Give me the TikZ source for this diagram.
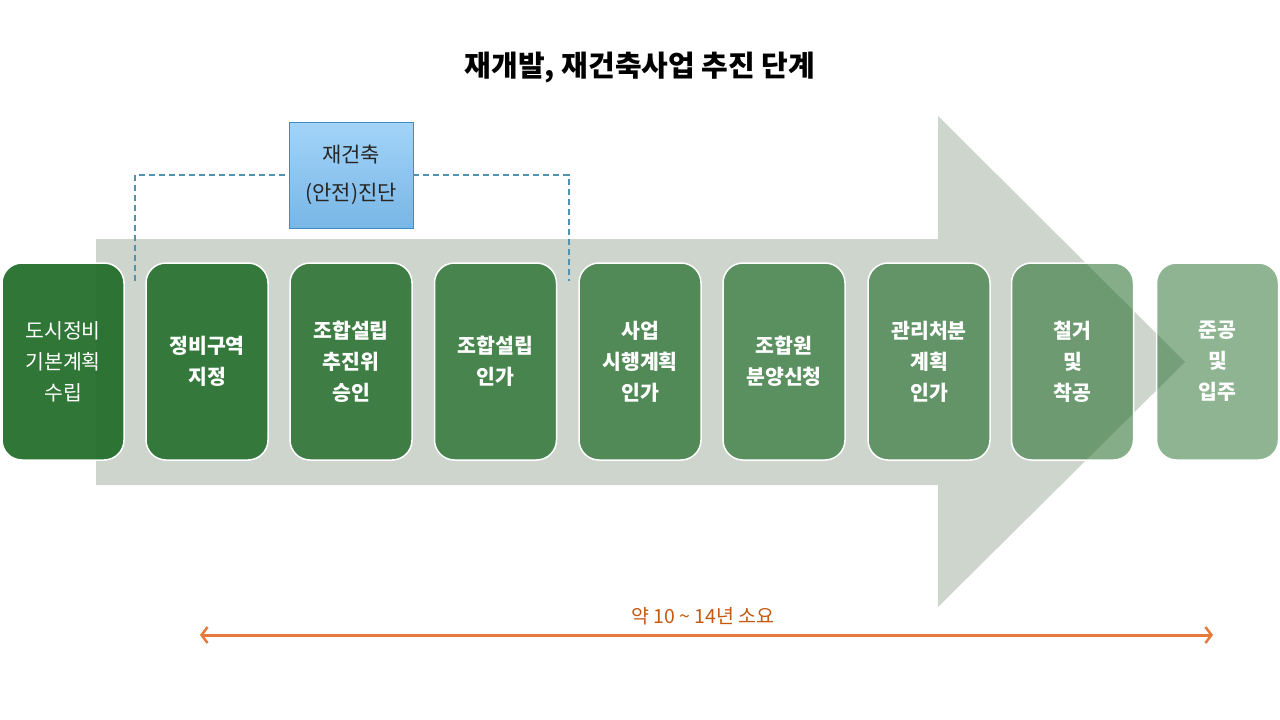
\documentclass[tikz,border=0pt]{standalone}
\usepackage{fontspec}
\setmainfont{Noto Sans CJK KR}
\usetikzlibrary{arrows.meta,shapes.geometric}
\definecolor{arrowgrey}{HTML}{CDD5CD}
\definecolor{stagegreen}{HTML}{1F6B27}
\definecolor{dashblue}{HTML}{4F93B0}
\definecolor{boxtop}{HTML}{A3D4F8}
\definecolor{boxbot}{HTML}{78B6E6}
\definecolor{boxedge}{HTML}{3F8BC6}
\definecolor{spanorange}{HTML}{E67A3A}
\definecolor{labelorange}{HTML}{C55A11}
\tikzset{
  stage/.style={rectangle, rounded corners=20pt, minimum width=122pt, minimum height=197pt,
    draw=white, line width=1.5pt, fill=stagegreen, text=white, text opacity=1, draw opacity=1,
    align=center, font=\fontsize{20.5}{31}\selectfont\bfseries, inner sep=0pt},
  safetybox/.style={rectangle, minimum width=124pt, minimum height=106pt, draw=boxedge, line width=0.8pt,
    top color=boxtop, bottom color=boxbot, text=black!85, align=center,
    font=\fontsize{21}{38}\selectfont, inner sep=0pt},
  dashlink/.style={draw=dashblue, line width=1.2pt, dash pattern=on 6pt off 4pt},
  span/.style={draw=spanorange, line width=3pt, {Straight Barb[length=6pt,width=16pt,line width=2.5pt]}-{Straight Barb[length=6pt,width=16pt,line width=2.5pt]}}
}
\begin{document}
\begin{tikzpicture}[x=1pt,y=-1pt]
\useasboundingbox[fill=white] (0,0) rectangle (1280,720);
% title
\node[font=\fontsize{29}{32}\selectfont\bfseries] (title) at (640,68) {재개발, 재건축사업 추진 단계};
% big arrow
\fill[arrowgrey] (96,239) -- (938,239) -- (938,116) -- (1185,362) -- (938,607) -- (938,485) -- (96,485) -- cycle;
% stages
\node[stage, fill opacity=0.92, font=\fontsize{20.5}{31}\selectfont] (s1) at (63,361.5) {도시정비\\기본계획\\수립};
\node[stage, fill opacity=0.87] (s2) at (207,361.5) {정비구역\\지정};
\node[stage, fill opacity=0.82] (s3) at (351,361.5) {조합설립\\추진위\\승인};
\node[stage, fill opacity=0.76] (s4) at (495.5,361.5) {조합설립\\인가};
\node[stage, fill opacity=0.71] (s5) at (640,361.5) {사업\\시행계획\\인가};
\node[stage, fill opacity=0.66] (s6) at (784,361.5) {조합원\\분양신청};
\node[stage, fill opacity=0.61] (s7) at (929,361.5) {관리처분\\계획\\인가};
\node[stage, fill opacity=0.55] (s8) at (1072.5,361.5) {철거\\및\\착공};
\node[stage, fill opacity=0.50] (s9) at (1217.5,361.5) {준공\\및\\입주};
% safety check box and bracket
\node[safetybox] (safe) at (351,175) {\raisebox{-3pt}{재건축}\\\raisebox{-3pt}{(안전)진단}};
\coordinate (bl) at (135,281);
\coordinate (br) at (569,281);
\draw[dashlink] (bl) |- (safe.west);
\draw[dashlink] (safe.east) -| (br);
% duration
\coordinate (dl) at (200,635);
\coordinate (dr) at (1213,635);
\draw[span] (dl) -- (dr);
\node[text=labelorange, font=\fontsize{19.5}{21}\selectfont] (dur) at (703,616) {약 10 \textasciitilde{} 14년 소요};
\end{tikzpicture}
\end{document}
